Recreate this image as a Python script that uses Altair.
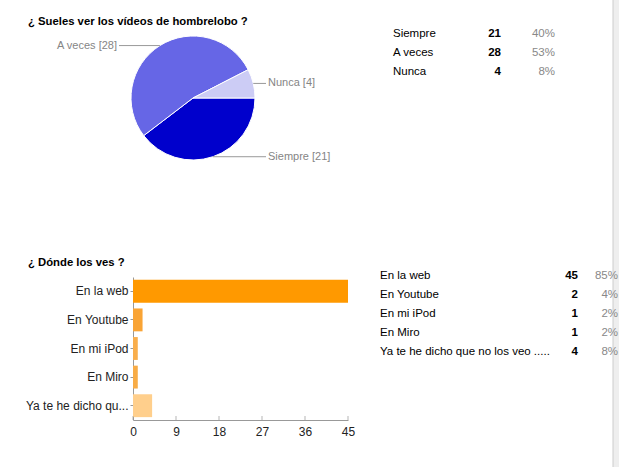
import math
import altair as alt
import pandas as pd

# ---------------- data ----------------
q1_title = "¿ Sueles ver los vídeos de hombrelobo ?"
q1_cats = ["Siempre", "A veces", "Nunca"]
q1_vals = [21, 28, 4]
q1_pcts = ["40%", "53%", "8%"]

q2_title = "¿ Dónde los ves ?"
q2_axis_labels = ["En la web", "En Youtube", "En mi iPod", "En Miro", "Ya te he dicho qu..."]
q2_table_labels = ["En la web", "En Youtube", "En mi iPod", "En Miro",
                   "Ya te he dicho que no los veo ....."]
q2_vals = [45, 2, 1, 1, 4]
q2_pcts = ["85%", "4%", "2%", "2%", "8%"]
q2_ticks = [0, 9, 18, 27, 36, 45]

# ---------------- styles / layout ----------------
W, H = 619, 467
FONT = "Liberation Sans"
TFS = 11.5  # table font size
pie_colors = ["#0000CC", "#6666E6", "#CCCCF5"]
bar_colors = ["#FF9900", "#F9A435", "#F9AE4C", "#F8AC46", "#FFCF8C"]
PIE_CX, PIE_CY, PIE_R = 193, 98, 62
START = math.pi / 2
LEFT_END, RIGHT_END = 119, 266

# pie table with leader-line anchors computed from the slice angles
total = sum(q1_vals)
rows = []
cum = 0
for i, (c, v, p) in enumerate(zip(q1_cats, q1_vals, q1_pcts)):
    mid = START + 2 * math.pi * (cum + v / 2) / total
    cum += v
    ax = PIE_CX + PIE_R * math.sin(mid)
    ay = PIE_CY - PIE_R * math.cos(mid)
    side = "left" if ax < PIE_CX else "right"
    lx = LEFT_END if side == "left" else RIGHT_END
    tx = lx - 2 if side == "left" else lx + 2
    rows.append(dict(idx=i, cat=c, val=v, pct=p, label=f"{c} [{v}]",
                     ax=ax, ay=ay, lx=lx, tx=tx, side=side))
pie_df = pd.DataFrame(rows)

bar_df = pd.DataFrame({"lab": q2_axis_labels, "tlab": q2_table_labels,
                       "val": q2_vals, "pct": q2_pcts})
tick_df = pd.DataFrame({"t": q2_ticks})
title_df = pd.DataFrame({"title": [q1_title, q2_title]})
one = pd.DataFrame({"a": [0]})

# ---------------- pie ----------------
pie = alt.Chart(pie_df).mark_arc(outerRadius=PIE_R, stroke="white", strokeWidth=1).encode(
    theta=alt.Theta("val:Q", stack=True,
                    scale=alt.Scale(range=[START, START + 2 * math.pi])),
    order=alt.Order("idx:O"),
    color=alt.Color("cat:N", scale=alt.Scale(domain=q1_cats, range=pie_colors), legend=None),
    x=alt.value(PIE_CX), y=alt.value(PIE_CY),
)

leaders = alt.Chart(pie_df).mark_rule(color="#999999", strokeWidth=1).encode(
    x=alt.X("ax:Q", scale=None, axis=None),
    x2="lx:Q",
    y=alt.Y("ay:Q", scale=None, axis=None),
)

pie_lab_left = alt.Chart(pie_df).transform_filter(alt.datum.side == "left").mark_text(
    align="right", baseline="middle", font=FONT, fontSize=11, color="#858585"
).encode(x=alt.X("tx:Q", scale=None, axis=None), y=alt.Y("ay:Q", scale=None, axis=None), text="label:N")

pie_lab_right = alt.Chart(pie_df).transform_filter(alt.datum.side == "right").mark_text(
    align="left", baseline="middle", font=FONT, fontSize=11, color="#858585"
).encode(x=alt.X("tx:Q", scale=None, axis=None), y=alt.Y("ay:Q", scale=None, axis=None), text="label:N")

# ---------------- titles ----------------
t1 = alt.Chart(title_df).transform_filter(alt.datum.title == q1_title).mark_text(
    align="left", baseline="middle", font=FONT, fontSize=11.3, fontWeight="bold", color="#000000"
).encode(x=alt.value(28), y=alt.value(22), text="title:N")
t2 = alt.Chart(title_df).transform_filter(alt.datum.title == q2_title).mark_text(
    align="left", baseline="middle", font=FONT, fontSize=11.3, fontWeight="bold", color="#000000"
).encode(x=alt.value(28), y=alt.value(263), text="title:N")

# ---------------- table 1 ----------------
ty1 = alt.Y("cat:N", scale=alt.Scale(type="point", domain=q1_cats, range=[34, 72], padding=0), axis=None)
tab1_lab = alt.Chart(pie_df).mark_text(align="left", baseline="middle", font=FONT, fontSize=TFS,
                                       color="#000000").encode(x=alt.value(393), y=ty1, text="cat:N")
tab1_num = alt.Chart(pie_df).mark_text(align="right", baseline="middle", font=FONT, fontSize=TFS,
                                       fontWeight="bold", color="#000000").encode(
    x=alt.value(501), y=ty1, text="val:Q")
tab1_pct = alt.Chart(pie_df).mark_text(align="right", baseline="middle", font=FONT, fontSize=TFS,
                                       color="#888888").encode(x=alt.value(555), y=ty1, text="pct:N")

# ---------------- bar chart ----------------
xscale = alt.Scale(domain=[0, 45], range=[133, 348], nice=False, zero=True)
bars = alt.Chart(bar_df).mark_bar().encode(
    y=alt.Y("lab:N", sort=q2_axis_labels,
            scale=alt.Scale(domain=q2_axis_labels, range=[277, 420], paddingInner=0.2, paddingOuter=0.1),
            axis=alt.Axis(title=None, orient="left", offset=-133, domainColor="#999999",
                          tickColor="#999999", tickSize=3, labelFont=FONT, labelFontSize=12,
                          labelColor="#222222", labelPadding=2, labelLimit=300)),
    x=alt.X("val:Q", scale=xscale,
            axis=alt.Axis(title=None, orient="bottom", offset=-47, values=q2_ticks, grid=False,
                          domainColor="#999999", tickSize=0, labelFont=FONT, labelFontSize=12,
                          labelColor="#222222", labelPadding=6, labelFlush=False)),
    color=alt.Color("lab:N", scale=alt.Scale(domain=q2_axis_labels, range=bar_colors), legend=None),
)
xticks = alt.Chart(tick_df).mark_tick(orient="vertical", size=4, thickness=1, color="#999999").encode(
    x=alt.X("t:Q", scale=xscale, axis=None), y=alt.value(418))

# ---------------- table 2 ----------------
ty2 = alt.Y("tlab:N", scale=alt.Scale(type="point", domain=q2_table_labels, range=[276, 352], padding=0),
            axis=None)
tab2_lab = alt.Chart(bar_df).mark_text(align="left", baseline="middle", font=FONT, fontSize=TFS,
                                       color="#000000").encode(x=alt.value(380), y=ty2, text="tlab:N")
tab2_num = alt.Chart(bar_df).mark_text(align="right", baseline="middle", font=FONT, fontSize=TFS,
                                       fontWeight="bold", color="#000000").encode(
    x=alt.value(578), y=ty2, text="val:Q")

# scrollbar-like strip at the right edge
strip = alt.Chart(one).mark_rect(color="#eeeeee").encode(
    x=alt.value(613), x2=alt.value(619), y=alt.value(0), y2=alt.value(H))
strip_line = alt.Chart(one).mark_rule(color="#cccccc", strokeWidth=1).encode(
    x=alt.value(613), y=alt.value(0), y2=alt.value(H))

tab2_pct = alt.Chart(bar_df).mark_text(align="right", baseline="middle", font=FONT, fontSize=TFS,
                                       color="#888888").encode(x=alt.value(618), y=ty2, text="pct:N")

chart = alt.layer(
    strip, strip_line,
    pie, leaders, pie_lab_left, pie_lab_right,
    t1, t2,
    tab1_lab, tab1_num, tab1_pct,
    bars, xticks,
    tab2_lab, tab2_num, tab2_pct,
).resolve_scale(
    x="independent", y="independent", color="independent", theta="independent"
).properties(
    width=W, height=H, autosize=alt.AutoSizeParams(type="none"), padding=0,
    background="white",
).configure_view(stroke=None)

chart.save("out.html", embed_options={"renderer": "svg", "actions": False})
